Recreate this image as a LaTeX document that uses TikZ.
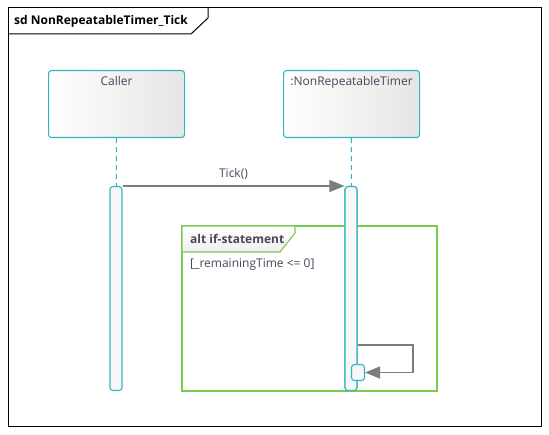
\documentclass[tikz,border=0pt]{standalone}
\usepackage{fontspec}
\setmainfont{Open Sans}
\usepackage{xcolor}
\usetikzlibrary{positioning,shapes,arrows.meta,calc}
\definecolor{lifeteal}{RGB}{48,182,190}
\definecolor{altgreen}{RGB}{122,202,82}
\definecolor{msggray}{RGB}{125,125,125}
\definecolor{labelink}{RGB}{70,70,90}

\begin{document}
\begin{tikzpicture}[x=1pt, y=-1pt, font=\fontsize{12}{14}\selectfont,
    lifebox/.style={rectangle, rounded corners=3pt, draw=lifeteal, line width=1.1pt, left color=white, right color=black!10, minimum width=136pt, minimum height=67pt, anchor=north west, inner sep=0pt},
    actbar/.style={rectangle, rounded corners=3pt, draw=lifeteal, line width=1.1pt, fill=black!3, minimum width=12pt, anchor=north, inner sep=0pt},
    lifeline/.style={draw=lifeteal, line width=1.1pt, dash pattern=on 5pt off 4pt},
    msg/.style={draw=msggray, line width=1.1pt, -{Triangle[length=15pt,width=12pt]}},
    boxtext/.style={text=labelink, inner sep=0pt, anchor=north}]
    \useasboundingbox (0,0) rectangle (549,435);

    % frame
    \draw[line width=1pt] (8,8) rectangle (541,427);
    \draw[line width=1pt] (8,34) -- (191,34) -- (208,18) -- (208,8);
    \node[anchor=west, inner sep=0pt, font=\fontsize{12}{14}\selectfont\bfseries] (sdlabel) at (14,21) {sd NonRepeatableTimer\_Tick};

    % lifelines
    \node[lifebox] (caller) at (48,70) {};
    \node[lifebox] (timer) at (283,70) {};
    \node[boxtext, below=6pt of caller.north] (callername) {Caller};
    \node[boxtext, below=6pt of timer.north] (timername) {:NonRepeatableTimer};

    \node[actbar, minimum height=204pt] (calleract) at (116,186) {};
    \node[actbar, minimum height=204pt] (timeract) at (351,186) {};
    \draw[lifeline] (caller) -- (calleract);
    \draw[lifeline] (timer) -- (timeract);

    % alt fragment
    \draw[altgreen, line width=1.6pt] (182,226) rectangle (437,391);
    \draw[altgreen, line width=1.1pt, top color=white, bottom color=black!6] (182,226) -- (295,226) -- (295,233) -- (280,252) -- (182,252) -- cycle;
    \node[anchor=west, inner sep=0pt, text=labelink, font=\fontsize{12}{14}\selectfont\bfseries] (altlabel) at (190,239) {alt if-statement};
    \node[anchor=west, inner sep=0pt, text=labelink] (guard) at (190,265) {[\_remainingTime <= 0]};

    % redraw timer bar above the fragment
    \node[actbar, minimum height=204pt] (timeract) at (351,186) {};
    \node[actbar, minimum width=13pt, minimum height=16pt] (selfact) at (358,364) {};

    % messages
    \draw[msg] (calleract.north east) -- (timeract.north west) node[midway, above=3pt, text=labelink] (tick) {Tick()};
    \draw[msg] (timeract.east |- 0,345) -- (413,345) |- (selfact.east);
\end{tikzpicture}
\end{document}
